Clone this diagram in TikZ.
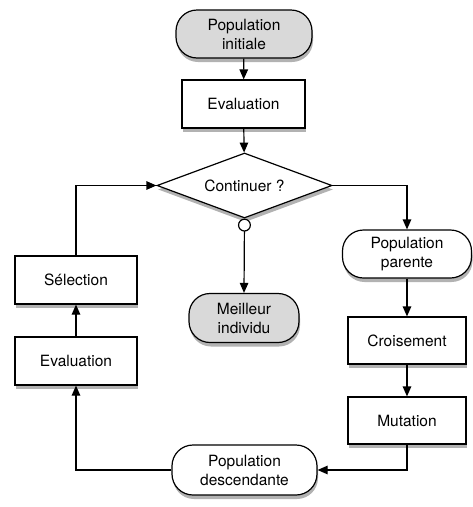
\documentclass[tikz,border=0pt]{standalone}
\usepackage{fontspec}
\setmainfont{TeX Gyre Heros}
\usetikzlibrary{shapes.geometric,shadows,arrows.meta}
\definecolor{termgray}{RGB}{217,217,217}
\begin{document}
\begin{tikzpicture}[x=1pt,y=-1pt,
  every node/.style={font=\fontsize{15.5}{19}\selectfont, align=center, line width=1.2pt, draw=black, inner sep=0pt},
  shad/.style={drop shadow={shadow xshift=1pt, shadow yshift=-4pt, opacity=0.3, fill=black}},
  procbox/.style={rectangle, fill=white, minimum width=123pt, minimum height=48pt, shad},
  termbox/.style={rectangle, rounded corners=21pt, minimum height=48pt, shad},
  decbox/.style={diamond, aspect=2.69, minimum width=175pt, minimum height=65pt, fill=white, shad},
  arr/.style={draw=black, line width=1.2pt, -{Triangle[length=10pt,width=8.5pt]}},
  circarr/.style={draw=black, line width=1.2pt, {Circle[open,length=13pt,width=13pt,fill=white]}-{Triangle[length=10pt,width=8.5pt]}}
]
\useasboundingbox (0,0) rectangle (473,507);
\node[termbox, fill=termgray, minimum width=136pt] (pi) at (244,34) {Population\\initiale};
\node[procbox] (ev1) at (243.5,104) {Evaluation};
\node[decbox] (cont) at (244.5,185.5) {Continuer ?};
\node[termbox, fill=termgray, minimum width=110pt, minimum height=49pt] (mi) at (244,318) {Meilleur\\individu};
\node[termbox, fill=white, minimum width=129pt] (pp) at (407,254) {Population\\parente};
\node[procbox, minimum width=118pt, minimum height=47pt] (cr) at (407,340.5) {Croisement};
\node[procbox, minimum width=118pt, minimum height=47pt] (mu) at (407,420.5) {Mutation};
\node[termbox, fill=white, minimum width=145pt, minimum height=50pt] (pd) at (244.5,470) {Population\\descendante};
\node[procbox, minimum width=122pt] (ev2) at (76,361) {Evaluation};
\node[procbox, minimum width=122pt] (sel) at (76,280) {Sélection};
\draw[arr] (pi) -- (ev1);
\draw[arr] (ev1) -- (cont);
\draw[arr] (cont.east) -| (pp.north);
\draw[circarr] (cont.south) -- (mi.north);
\draw[arr] (pp) -- (cr);
\draw[arr] (cr) -- (mu);
\draw[arr] (mu.south) |- (pd.east);
\draw[arr] (pd.west) -| (ev2.south);
\draw[arr] (ev2) -- (sel);
\draw[arr] (sel.north) |- (cont.west);
\end{tikzpicture}
\end{document}
